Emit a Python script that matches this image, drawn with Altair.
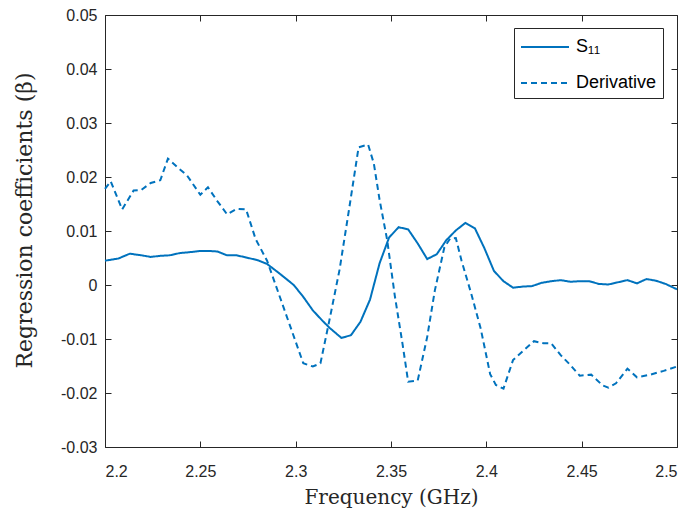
import altair as alt
import pandas as pd

# ---- data ----
s11_freq = [2.200, 2.207, 2.213, 2.219, 2.224, 2.229, 2.234, 2.239, 2.245, 2.250,
            2.255, 2.259, 2.264, 2.269, 2.274, 2.280, 2.285, 2.292, 2.299, 2.304,
            2.309, 2.314, 2.318, 2.324, 2.329, 2.334, 2.339, 2.344, 2.349, 2.354,
            2.359, 2.364, 2.369, 2.374, 2.379, 2.384, 2.389, 2.394, 2.399, 2.404,
            2.409, 2.414, 2.419, 2.424, 2.429, 2.434, 2.439, 2.444, 2.449, 2.454,
            2.459, 2.464, 2.469, 2.474, 2.479, 2.484, 2.489, 2.494, 2.500]
s11_beta = [0.0045, 0.0049, 0.0058, 0.0055, 0.0052, 0.0054, 0.0055, 0.0059, 0.0061, 0.0063,
            0.0063, 0.0062, 0.0055, 0.0055, 0.0051, 0.0046, 0.0039, 0.0020, 0.0000, -0.0022,
            -0.0047, -0.0066, -0.0080, -0.0098, -0.0093, -0.0068, -0.0027, 0.0040, 0.0088, 0.0107,
            0.0103, 0.0077, 0.0048, 0.0057, 0.0083, 0.0101, 0.0115, 0.0105, 0.0068, 0.0026,
            0.0007, -0.0005, -0.0003, -0.0002, 0.0004, 0.0007, 0.0009, 0.0006, 0.0007, 0.0007,
            0.0002, 0.0001, 0.0005, 0.0009, 0.0003, 0.0011, 0.0008, 0.0002, -0.0008]

deriv_freq = [2.200, 2.203, 2.209, 2.215, 2.219, 2.224, 2.229, 2.233, 2.238, 2.243,
              2.250, 2.254, 2.259, 2.264, 2.269, 2.274, 2.279, 2.285, 2.290, 2.296,
              2.300, 2.304, 2.309, 2.313, 2.318, 2.323, 2.328, 2.333, 2.338, 2.341,
              2.344, 2.348, 2.352, 2.356, 2.359, 2.364, 2.369, 2.373, 2.378, 2.381,
              2.384, 2.387, 2.392, 2.397, 2.402, 2.405, 2.409, 2.414, 2.419, 2.425,
              2.430, 2.434, 2.439, 2.444, 2.449, 2.455, 2.461, 2.464, 2.468, 2.474,
              2.479, 2.486, 2.493, 2.500]
deriv_beta = [0.0178, 0.0192, 0.0140, 0.0175, 0.0176, 0.0189, 0.0194, 0.0234, 0.0218, 0.0203,
              0.0167, 0.0181, 0.0155, 0.0131, 0.0141, 0.0140, 0.0085, 0.0045, -0.0005, -0.0065,
              -0.0105, -0.0145, -0.0151, -0.0145, -0.0060, 0.0028, 0.0140, 0.0255, 0.0260, 0.0225,
              0.0158, 0.0083, -0.0020, -0.0108, -0.0179, -0.0177, -0.0096, -0.0010, 0.0070, 0.0086,
              0.0087, 0.0045, -0.0015, -0.0080, -0.0165, -0.0185, -0.0192, -0.0139, -0.0123, -0.0104,
              -0.0108, -0.0108, -0.0130, -0.0148, -0.0168, -0.0166, -0.0186, -0.0190, -0.0182, -0.0155,
              -0.0171, -0.0166, -0.0159, -0.0151]

series_names = ["S\u2081\u2081", "Derivative"]
x_ticks = [2.2, 2.25, 2.3, 2.35, 2.4, 2.45, 2.5]
y_ticks = [-0.03, -0.02, -0.01, 0, 0.01, 0.02, 0.03, 0.04, 0.05]

df = pd.concat([
    pd.DataFrame({"freq": s11_freq, "beta": s11_beta, "series": series_names[0]}),
    pd.DataFrame({"freq": deriv_freq, "beta": deriv_beta, "series": series_names[1]}),
], ignore_index=True)

BLUE = "#0072BD"
AX = "#262626"

xscale = alt.Scale(domain=[2.2, 2.5], nice=False, zero=False)
yscale = alt.Scale(domain=[-0.03, 0.05], nice=False, zero=False)

tick_common = dict(tickSize=6, offset=-6, domain=False, grid=False,
                   tickColor=AX, tickWidth=1)

x_axis = alt.Axis(orient="bottom", values=x_ticks, labelExpr="'' + datum.value",
                  labelFont="Liberation Sans", labelFontSize=16, labelColor=AX,
                  labelPadding=16, title="Frequency (GHz)", titleFont="DejaVu Serif",
                  titleFontSize=20, titleFontWeight="normal", titleColor=AX,
                  titlePadding=8, **tick_common)
y_axis = alt.Axis(orient="left", values=y_ticks, labelExpr="'' + datum.value",
                  labelFont="Liberation Sans", labelFontSize=16, labelColor=AX,
                  labelPadding=8, title="Regression coefficients (\u03b2)",
                  titleFont="DejaVu Serif", titleFontSize=22, titleFontWeight="normal",
                  titleColor=AX, titlePadding=24, titleY=205, **tick_common)

legend = alt.Legend(title=None, orient="none", legendX=409, legendY=13)

lines = alt.Chart(df).mark_line(strokeWidth=2).encode(
    x=alt.X("freq:Q", scale=xscale, axis=x_axis),
    y=alt.Y("beta:Q", scale=yscale, axis=y_axis),
    color=alt.Color("series:N", scale=alt.Scale(domain=series_names, range=[BLUE, BLUE]),
                    legend=legend),
    strokeDash=alt.StrokeDash("series:N",
                              scale=alt.Scale(domain=series_names, range=[[1, 0], [6, 4]]),
                              legend=legend),
)

frame_axes = alt.Chart(df).mark_line(strokeOpacity=0).encode(
    x=alt.X("freq:Q", scale=xscale,
            axis=alt.Axis(orient="top", values=x_ticks, labels=False, title=None, **tick_common)),
    y=alt.Y("beta:Q", scale=yscale,
            axis=alt.Axis(orient="right", values=y_ticks, labels=False, title=None, **tick_common)),
    detail="series:N",
)

chart = alt.layer(lines, frame_axes).resolve_axis(
    x="independent", y="independent"
).properties(
    width=572, height=432,
    padding={"left": 97, "top": 7, "right": 9, "bottom": 67},
    autosize=alt.AutoSizeParams(type="none"),
).configure_view(
    stroke=AX, strokeWidth=1
).configure_legend(
    strokeColor=AX, fillColor="white", padding=6, cornerRadius=0,
    symbolType="M-2,0H2", symbolSize=576, symbolStrokeWidth=2, symbolOffset=12,
    labelFont="Liberation Sans", labelFontSize=18, labelColor="black",
    labelOffset=18, rowPadding=14, labelLimit=200,
)

chart.save("out.html", embed_options={"renderer": "svg", "actions": False})
